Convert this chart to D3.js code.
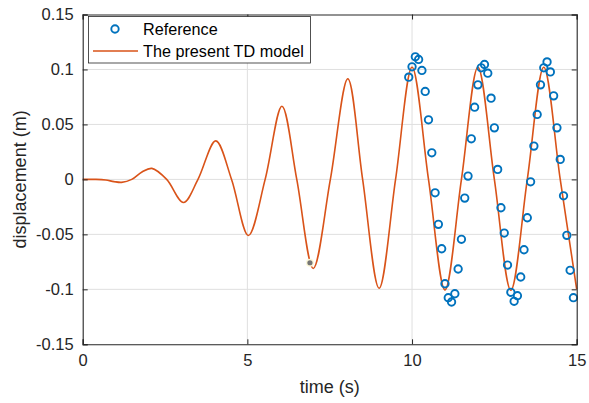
<!DOCTYPE html>
<html>
<head>
<meta charset="utf-8">
<script src="https://cdn.jsdelivr.net/npm/d3@7"></script>
<style>
  body { margin: 0; background: #fff; }
  svg { display: block; font-family: "Liberation Sans", Arial, sans-serif; }
</style>
</head>
<body>
<svg id="chart" width="589" height="403"></svg>
<script>
// TD model curve (time, displacement)
const modelT = [0, 0.4, 0.7, 0.95, 1.18, 1.49, 1.8, 2.1, 2.55, 3.06, 3.5, 4.04, 4.52, 5.03, 5.54, 6.05, 6.5, 7.0, 7.52, 8.05, 8.5, 9.0, 9.5, 10.0, 10.5, 11.0, 11.5, 12.0, 12.5, 13.0, 13.5, 14.0, 14.5, 15.0];
const modelY = [0, 0, -0.0006, -0.0020, -0.0027, 0, 0.0068, 0.0100, 0, -0.0210, 0, 0.0350, 0, -0.0510, 0, 0.0666, 0, -0.0810, 0, 0.0915, 0, -0.0990, 0, 0.1020, 0, -0.1005, 0, 0.1020, 0, -0.1008, 0, 0.1020, 0, -0.1000];

// Reference samples
const refT = [9.9, 10.0, 10.1, 10.2, 10.3, 10.4, 10.5, 10.6, 10.7, 10.8, 10.9, 11.0, 11.1, 11.2, 11.3, 11.4, 11.5, 11.6, 11.7, 11.8, 11.9, 12.0, 12.1, 12.2, 12.3, 12.4, 12.5, 12.6, 12.7, 12.8, 12.9, 13.0, 13.1, 13.2, 13.3, 13.4, 13.5, 13.6, 13.7, 13.8, 13.9, 14.0, 14.1, 14.2, 14.3, 14.4, 14.5, 14.6, 14.7, 14.8, 14.9];
const refY = [0.0930, 0.1024, 0.1115, 0.1091, 0.0991, 0.0800, 0.0542, 0.0242, -0.0122, -0.0409, -0.0631, -0.0949, -0.1076, -0.1115, -0.1040, -0.0815, -0.0545, -0.0170, 0.0030, 0.0369, 0.0657, 0.0860, 0.1015, 0.1045, 0.0966, 0.0739, 0.0469, 0.0091, -0.0258, -0.0488, -0.0779, -0.1027, -0.1109, -0.1058, -0.0888, -0.0640, -0.0349, -0.0022, 0.0303, 0.0591, 0.0860, 0.1015, 0.1069, 0.0978, 0.0760, 0.0469, 0.0182, -0.0149, -0.0509, -0.0827, -0.1076];

// datatip marker
const tipT = 6.9, tipY = -0.0758;

const xTicks = [0, 5, 10, 15];
const yTicks = [-0.15, -0.1, -0.05, 0, 0.05, 0.1, 0.15];
const legendLabels = ["Reference", "The present TD model"];

const svg = d3.select("#chart");
const margin = {top: 14.5, left: 82.7, right: 12.3, bottom: 58.7};
const W = 589 - margin.left - margin.right;
const H = 403 - margin.top - margin.bottom;
const axisColor = "#262626";

const x = d3.scaleLinear().domain([0, 15]).range([0, W]);
const y = d3.scaleLinear().domain([-0.15, 0.15]).range([H, 0]);

const g = svg.append("g").attr("transform", `translate(${margin.left},${margin.top})`);

// grid
g.append("g").selectAll("line").data(xTicks.slice(1, -1)).enter().append("line")
  .attr("x1", d => x(d)).attr("x2", d => x(d)).attr("y1", 0).attr("y2", H)
  .attr("stroke", "#dfdfdf").attr("stroke-width", 1);
g.append("g").selectAll("line").data(yTicks.slice(1, -1)).enter().append("line")
  .attr("y1", d => y(d)).attr("y2", d => y(d)).attr("x1", 0).attr("x2", W)
  .attr("stroke", "#dfdfdf").attr("stroke-width", 1);

// model line
const line = d3.line().x((d, i) => x(modelT[i])).y(d => y(d)).curve(d3.curveCatmullRom.alpha(0.5));
g.append("path").datum(modelY).attr("d", line)
  .attr("fill", "none").attr("stroke", "#D95319").attr("stroke-width", 1.6);

// reference circles
g.append("g").selectAll("circle").data(refY).enter().append("circle")
  .attr("cx", (d, i) => x(refT[i])).attr("cy", d => y(d)).attr("r", 3.7)
  .attr("fill", "none").attr("stroke", "#0072BD").attr("stroke-width", 1.9);

// datatip dot
g.append("circle").attr("cx", x(tipT)).attr("cy", y(tipY)).attr("r", 4)
  .attr("fill", "#fbf7d8");
g.append("circle").attr("cx", x(tipT)).attr("cy", y(tipY)).attr("r", 2.6)
  .attr("fill", "#757575");

// axes
const xAxis = d3.axisBottom(x).tickValues(xTicks).tickSize(-5).tickPadding(10).tickFormat(d3.format("d"));
const yAxis = d3.axisLeft(y).tickValues(yTicks).tickSize(-5).tickPadding(9).tickFormat(d => d === 0 ? "0" : String(d));
const xAxisTop = d3.axisTop(x).tickValues(xTicks).tickSize(-5).tickFormat("");
const yAxisRight = d3.axisRight(y).tickValues(yTicks).tickSize(-5).tickFormat("");

function style(sel) {
  sel.select(".domain").attr("stroke", axisColor).attr("stroke-width", 1.1);
  sel.selectAll(".tick line").attr("stroke", axisColor);
  sel.selectAll(".tick text").attr("fill", axisColor).attr("font-size", "16.5px")
    .attr("font-family", "Liberation Sans, Arial, sans-serif");
}
g.append("g").attr("transform", `translate(0,${H})`).call(xAxis).call(style);
g.append("g").call(yAxis).call(style);
g.append("g").call(xAxisTop).call(style);
g.append("g").attr("transform", `translate(${W},0)`).call(yAxisRight).call(style);

// axis labels
svg.append("text").attr("x", margin.left + W / 2).attr("y", 393)
  .attr("text-anchor", "middle").attr("font-size", "18px").attr("fill", axisColor)
  .text("time (s)");
svg.append("text").attr("transform", `translate(26,${margin.top + H / 2}) rotate(-90)`)
  .attr("text-anchor", "middle").attr("font-size", "18px").attr("fill", axisColor)
  .text("displacement (m)");

// legend
const lg = svg.append("g");
lg.append("rect").attr("x", 88.5).attr("y", 16.5).attr("width", 222).attr("height", 46.5)
  .attr("fill", "#fff").attr("stroke", axisColor).attr("stroke-width", 0.8);
lg.append("circle").attr("cx", 115).attr("cy", 29).attr("r", 3.7)
  .attr("fill", "none").attr("stroke", "#0072BD").attr("stroke-width", 1.9);
lg.append("line").attr("x1", 93).attr("x2", 138).attr("y1", 51).attr("y2", 51)
  .attr("stroke", "#D95319").attr("stroke-width", 1.6);
lg.selectAll("text").data(legendLabels).enter().append("text")
  .attr("x", 143).attr("y", (d, i) => 34.8 + i * 22)
  .attr("font-size", "16.2px").attr("fill", "#000").text(d => d);
</script>
</body>
</html>
